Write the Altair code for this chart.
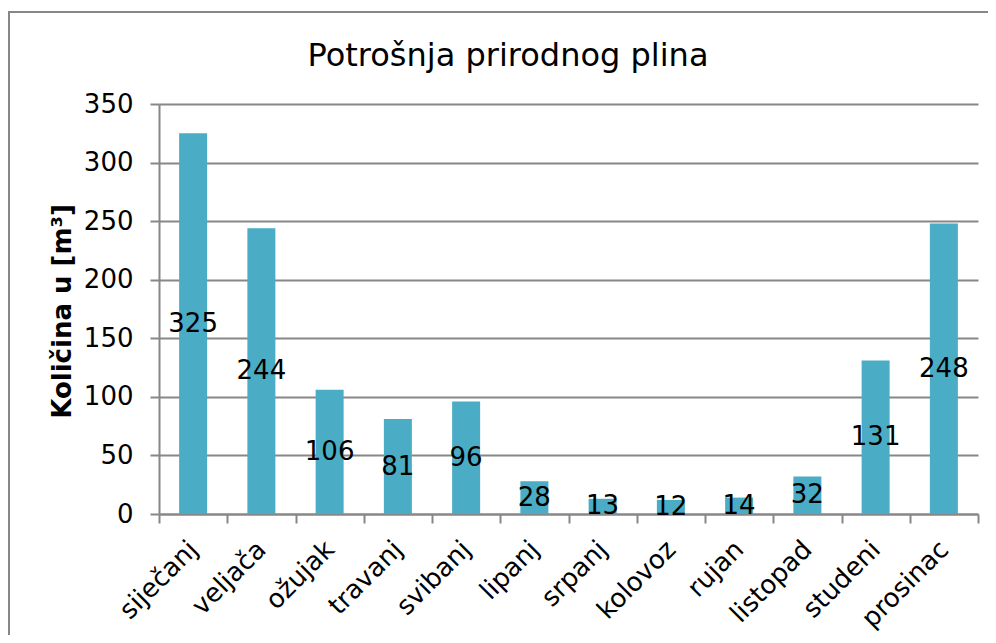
import altair as alt
import pandas as pd

months = ["siječanj", "veljača", "ožujak", "travanj", "svibanj", "lipanj",
          "srpanj", "kolovoz", "rujan", "listopad", "studeni", "prosinac"]
values = [325, 244, 106, 81, 96, 28, 13, 12, 14, 32, 131, 248]
y_ticks = [0, 50, 100, 150, 200, 250, 300, 350]
title_text = "Potrošnja prirodnog plina"

df = pd.DataFrame({"mjesec": months, "kolicina": values})
df["pola"] = df["kolicina"] / 2

FONT = "DejaVu Sans"
GRAY = "#878787"

x_enc = alt.X(
    "mjesec:N", sort=months, title=None,
    scale=alt.Scale(paddingInner=0, paddingOuter=0),
    axis=alt.Axis(labelAngle=-45, labelAlign="right", labelBaseline="middle",
                  labelFontSize=26, labelFont=FONT, labelColor="black",
                  labelPadding=22, tickBand="extent", tickSize=9,
                  tickColor=GRAY, domainColor=GRAY, tickWidth=2, domainWidth=2,
                  grid=False, labelOverlap=False),
)

bars = alt.Chart(df).mark_bar(size=28, color="#4BACC6").encode(
    x=x_enc,
    y=alt.Y("kolicina:Q", title="Količina u [m³]",
            scale=alt.Scale(domain=[0, 350], nice=False),
            axis=alt.Axis(values=y_ticks, grid=True, gridColor=GRAY, gridWidth=2,
                          tickSize=9, tickColor=GRAY, tickWidth=2,
                          domainColor=GRAY, domainWidth=2,
                          labelFontSize=26, labelFont=FONT, labelColor="black",
                          labelPadding=17,
                          titleFont=FONT, titleFontSize=26, titleFontWeight="bold",
                          titleColor="black", titleAngle=270,
                          titleBaseline="middle", titleAlign="center",
                          titleX=-97, titleY=207)),
)

labels = alt.Chart(df).mark_text(fontSize=26, font=FONT, color="black",
                                 baseline="middle", align="center").encode(
    x=alt.X("mjesec:N", sort=months),
    y=alt.Y("pola:Q"),
    text=alt.Text("kolicina:Q"),
)

one = pd.DataFrame({"t": [title_text]})

border = alt.Chart(one).mark_rect(
    fillOpacity=0, stroke=GRAY, strokeWidth=2
).encode(
    x=alt.value(-150), x2=alt.value(900), y=alt.value(-92), y2=alt.value(700)
)

title = alt.Chart(one).mark_text(
    font=FONT, fontSize=32, color="black", align="center", baseline="alphabetic"
).encode(
    x=alt.value(349), y=alt.value(-38), text="t:N"
)

chart = alt.layer(border, bars, labels, title).properties(
    width=819, height=410,
    padding={"left": 151, "top": 96, "right": 10, "bottom": 121},
    autosize=alt.AutoSizeParams(type="none"),
).configure(background="white", view=alt.ViewConfig(strokeWidth=0))

chart.save("out.html", embed_options={"renderer": "svg", "actions": False})
